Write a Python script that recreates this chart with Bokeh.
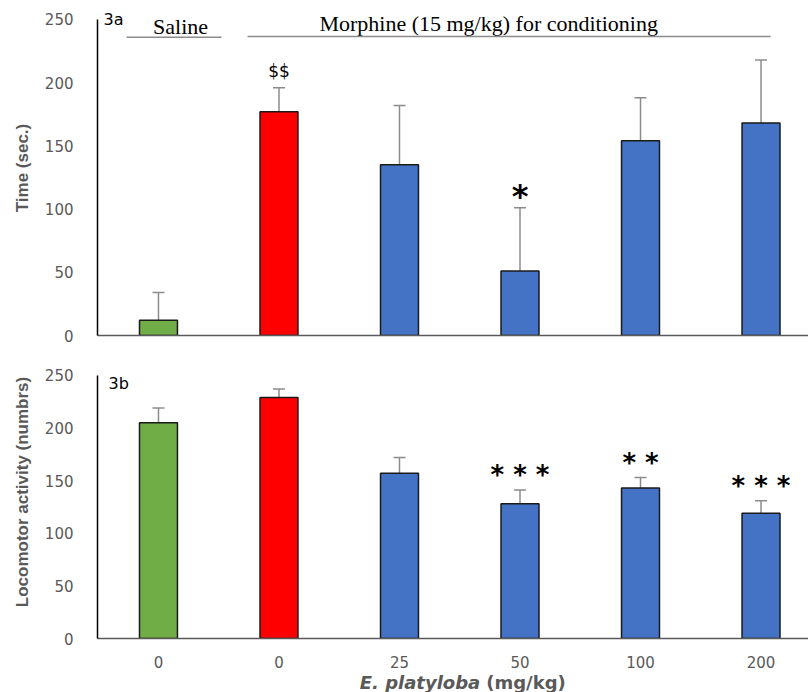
from bokeh.plotting import figure
from bokeh.models import ColumnDataSource, Whisker, TeeHead, FixedTicker, Range1d
from bokeh.layouts import column
from bokeh.embed import file_html
from bokeh.resources import INLINE
from bokeh.core.properties import value

# ---------------- data ----------------
doses = ["0", "0", "25", "50", "100", "200"]
bar_colors = ["#70AD47", "#FF0000", "#4472C4", "#4472C4", "#4472C4", "#4472C4"]
cpp_time = [12, 177, 135, 51, 154, 168]
cpp_sem = [22, 19, 47, 50, 34, 50]
cpp_marks = ["", "$$", "", "*", "", ""]
loco = [205, 229, 157, 128, 143, 119]
loco_sem = [14, 8, 15, 13, 10, 12]
loco_marks = ["", "", "", "* * *", "* *", "* * *"]
y_ticks = [0, 50, 100, 150, 200, 250]

GRAY = "#595959"
XR = (-0.506, 5.394)


def make_panel(vals, sems, height, ytop, bottom_border, ylabel, show_x):
    p = figure(width=808, height=height, x_range=Range1d(*XR), y_range=Range1d(0, ytop),
               output_backend="svg", toolbar_location=None,
               min_border_left=97, min_border_right=0,
               min_border_top=0, min_border_bottom=bottom_border)
    p.outline_line_color = None
    p.xgrid.visible = False
    p.ygrid.visible = False

    xs = list(range(len(vals)))
    src = ColumnDataSource(dict(x=xs, top=vals, upper=[v + e for v, e in zip(vals, sems)],
                                color=bar_colors))
    w = Whisker(base="x", lower="top", upper="upper", source=src,
                line_color="#8c8c8c", line_width=1.5,
                upper_head=TeeHead(size=12, line_color="#8c8c8c", line_width=1.5),
                lower_head=None)
    p.add_layout(w)
    p.vbar(x="x", top="top", bottom=0, width=0.315, fill_color="color",
           line_color="#1a1a1a", line_width=1.5, source=src)

    # axes
    p.yaxis.ticker = FixedTicker(ticks=y_ticks)
    p.yaxis.bounds = (0, 250)
    p.yaxis.axis_line_color = "black"
    p.yaxis.axis_line_width = 1.5
    p.yaxis.major_tick_line_color = None
    p.yaxis.minor_tick_line_color = None
    p.yaxis.major_label_text_font = "DejaVu Sans"
    p.yaxis.major_label_text_font_size = "15px"
    p.yaxis.major_label_text_color = GRAY
    p.yaxis.major_label_standoff = 18
    p.yaxis.axis_label = ylabel
    p.yaxis.axis_label_text_font = "Liberation Sans"
    p.yaxis.axis_label_text_font_size = "17px"
    p.yaxis.axis_label_text_font_style = "bold"
    p.yaxis.axis_label_text_color = GRAY
    p.yaxis.axis_label_standoff = 10

    p.xaxis.axis_line_color = "#5a5a5a"
    p.xaxis.axis_line_width = 1.5
    p.xaxis.major_tick_line_color = None
    p.xaxis.minor_tick_line_color = None
    if show_x:
        p.xaxis.ticker = FixedTicker(ticks=xs)
        p.xaxis.major_label_overrides = {i: d for i, d in enumerate(doses)}
        p.xaxis.major_label_text_font = "DejaVu Sans"
        p.xaxis.major_label_text_font_size = "15px"
        p.xaxis.major_label_text_color = GRAY
        p.xaxis.major_label_standoff = 11
    else:
        p.xaxis.ticker = FixedTicker(ticks=[])
    return p


# ---------------- panel 3a ----------------
p1 = make_panel(cpp_time, cpp_sem, 345, 265, 10, "Time (sec.)", False)

dollar_idx = [i for i, m in enumerate(cpp_marks) if m.startswith("$")]
star_idx = [i for i, m in enumerate(cpp_marks) if m.startswith("*")]
p1.text(x=dollar_idx, y=[cpp_time[i] + cpp_sem[i] + 13 for i in dollar_idx],
        text=[cpp_marks[i] for i in dollar_idx], text_align="center",
        text_baseline="middle", text_font=value("DejaVu Sans"),
        text_font_size="17px", text_color="black")
p1.text(x=star_idx, y=[cpp_time[i] + cpp_sem[i] + 9.5 for i in star_idx],
        text=[cpp_marks[i] for i in star_idx], text_align="center",
        text_baseline="middle", text_font=value("DejaVu Sans"),
        text_font_style="bold", text_font_size="32px", text_color="black")

p1.text(x=[-0.456], y=[250], text=["3a"], text_align="left", text_baseline="middle",
        text_font=value("DejaVu Sans"), text_font_size="16px", text_color="black")
# group headers
p1.text(x=[0.183], y=[244.5], text=["Saline"], text_align="center",
        text_baseline="middle", text_font=value("Liberation Serif"),
        text_font_size="22px", text_color="black")
p1.text(x=[2.74], y=[246.5], text=["Morphine (15 mg/kg) for conditioning"],
        text_align="center", text_baseline="middle",
        text_font=value("Liberation Serif"), text_font_size="22px", text_color="black")
p1.segment(x0=[-0.265, 0.739], y0=[236, 236.5], x1=[0.523, 5.079], y1=[236, 236.5],
           line_color="#8c8c8c", line_width=1.5)

# ---------------- panel 3b ----------------
p2 = make_panel(loco, loco_sem, 325, 278.4, 31, "Locomotor activity (numbrs)", True)
m_idx = [i for i, m in enumerate(loco_marks) if m]
p2.text(x=m_idx, y=[loco[i] + loco_sem[i] + 14 for i in m_idx],
        text=[loco_marks[i] for i in m_idx], text_align="center",
        text_baseline="middle", text_font=value("DejaVu Sans"),
        text_font_style="bold", text_font_size="26px", text_color="black")
p2.text(x=[-0.415], y=[242.5], text=["3b"], text_align="left", text_baseline="middle",
        text_font=value("DejaVu Sans"), text_font_size="16px", text_color="black")

# ---------------- x-axis title strip ----------------
p3 = figure(width=808, height=22, x_range=p2.x_range, y_range=Range1d(0, 1),
            output_backend="svg", toolbar_location=None,
            x_axis_location=None, y_axis_location=None,
            min_border_left=97, min_border_right=0, min_border_top=0, min_border_bottom=0)
p3.outline_line_color = None
p3.xgrid.visible = False
p3.ygrid.visible = False
p3.text(x=[2.67], y=[0.455], text=["E. platyloba"], text_align="right",
        text_baseline="middle", text_font=value("DejaVu Sans"),
        text_font_style="bold italic", text_font_size="18px", text_color=GRAY)
p3.text(x=[2.67], y=[0.455], x_offset=6, text=["(mg/kg)"], text_align="left",
        text_baseline="middle", text_font=value("DejaVu Sans"),
        text_font_style="bold", text_font_size="18px", text_color=GRAY)

layout = column(p1, p2, p3, spacing=0)
open("out.html", "w").write(file_html(layout, INLINE))
